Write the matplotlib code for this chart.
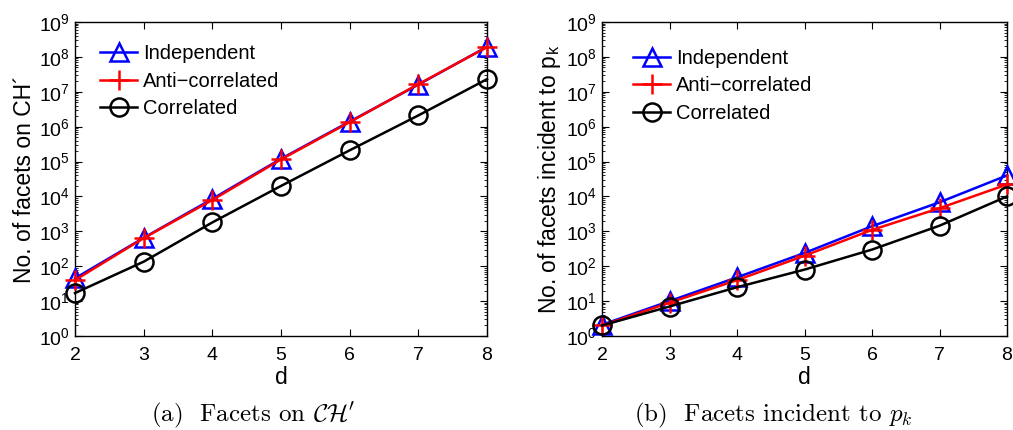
import matplotlib
matplotlib.use("Agg")
import matplotlib.pyplot as plt
from matplotlib.ticker import LogLocator, NullFormatter, FixedLocator

plt.rcParams['font.family'] = ['Liberation Sans', 'DejaVu Sans']
plt.rcParams['mathtext.fontset'] = 'cm'

d = [2, 3, 4, 5, 6, 7, 8]

# (a) facets on CH'
ch_independent = [45, 650, 8500, 1.2e5, 1.4e6, 1.6e7, 1.95e8]
ch_anti = [40, 640, 7900, 1.15e5, 1.35e6, 1.65e7, 1.9e8]
ch_correlated = [17, 135, 1800, 2.0e4, 2.1e5, 2.1e6, 2.3e7]

# (b) facets incident to p_k
pk_independent = [2.1, 10, 48, 240, 1400, 6800, 40000]
pk_anti = [2.0, 9.0, 40, 200, 1100, 4600, 22000]
pk_correlated = [2.0, 7.0, 25, 80, 300, 1450, 10000]

ylabels = ["No. of facets on CH\u00b4", "No. of facets incident to p$_\\mathregular{k}$"]
captions = ["(a)  Facets on $\\mathcal{CH}'$", "(b)  Facets incident to $p_k$"]
series_names = ["Independent", "Anti\u2212correlated", "Correlated"]

fig = plt.figure(figsize=(10.13, 4.30), dpi=100)
W, H = 1013, 430
axes_px = [(75, 22, 487, 336), (602, 22, 1007, 336)]
caption_x = [253, 773]
legend_anchor = [(0.041, 0.955), (0.057, 0.94)]

data = [(ch_independent, ch_anti, ch_correlated), (pk_independent, pk_anti, pk_correlated)]

for i, (l, t, r, b) in enumerate(axes_px):
    ax = fig.add_axes([l / W, 1 - b / H, (r - l) / W, (b - t) / H])
    ind, anti, cor = data[i]
    ax.plot(d, ind, color='#0000ff', lw=1.8, marker='^', ms=13, mfc='none', mec='#0000ff', mew=1.8,
            label=series_names[0], clip_on=False, zorder=3)
    ax.plot(d, anti, color='#ff0000', lw=1.8, marker='+', ms=14, mew=1.8,
            label=series_names[1], clip_on=False, zorder=4)
    ax.plot(d, cor, color='black', lw=1.8, marker='o', ms=13, mfc='none', mec='black', mew=1.8,
            label=series_names[2], clip_on=False, zorder=5)
    ax.set_yscale('log')
    ax.set_xlim(2, 8)
    ax.set_ylim(1, 1e9)
    ax.set_xticks(d)
    ax.yaxis.set_major_locator(FixedLocator([10.0 ** k for k in range(10)]))
    ax.yaxis.set_minor_locator(LogLocator(base=10, subs=range(2, 10), numticks=100))
    ax.yaxis.set_minor_formatter(NullFormatter())
    ax.tick_params(which='both', direction='in', top=True, right=True, labelsize=14)
    ax.tick_params(which='major', length=5, width=0.8)
    ax.tick_params(which='minor', length=2.5, width=0.6)
    ax.tick_params(axis='x', pad=8)
    for s in ax.spines.values():
        s.set_linewidth(1.0)
    ax.set_xlabel('d', fontsize=16.5, labelpad=1)
    ax.set_ylabel(ylabels[i], fontsize=16.5, labelpad=2)
    ax.legend(loc='upper left', frameon=False, fontsize=14.5, handlelength=1.85,
              handletextpad=0.3, labelspacing=0.42, borderaxespad=0.0,
              bbox_to_anchor=legend_anchor[i])
    fig.text(caption_x[i] / W, 1 - 415 / H, captions[i], ha='center', va='center',
             fontsize=18, family='cmr10', math_fontfamily='cm')

fig.savefig('out.png', dpi=100)
